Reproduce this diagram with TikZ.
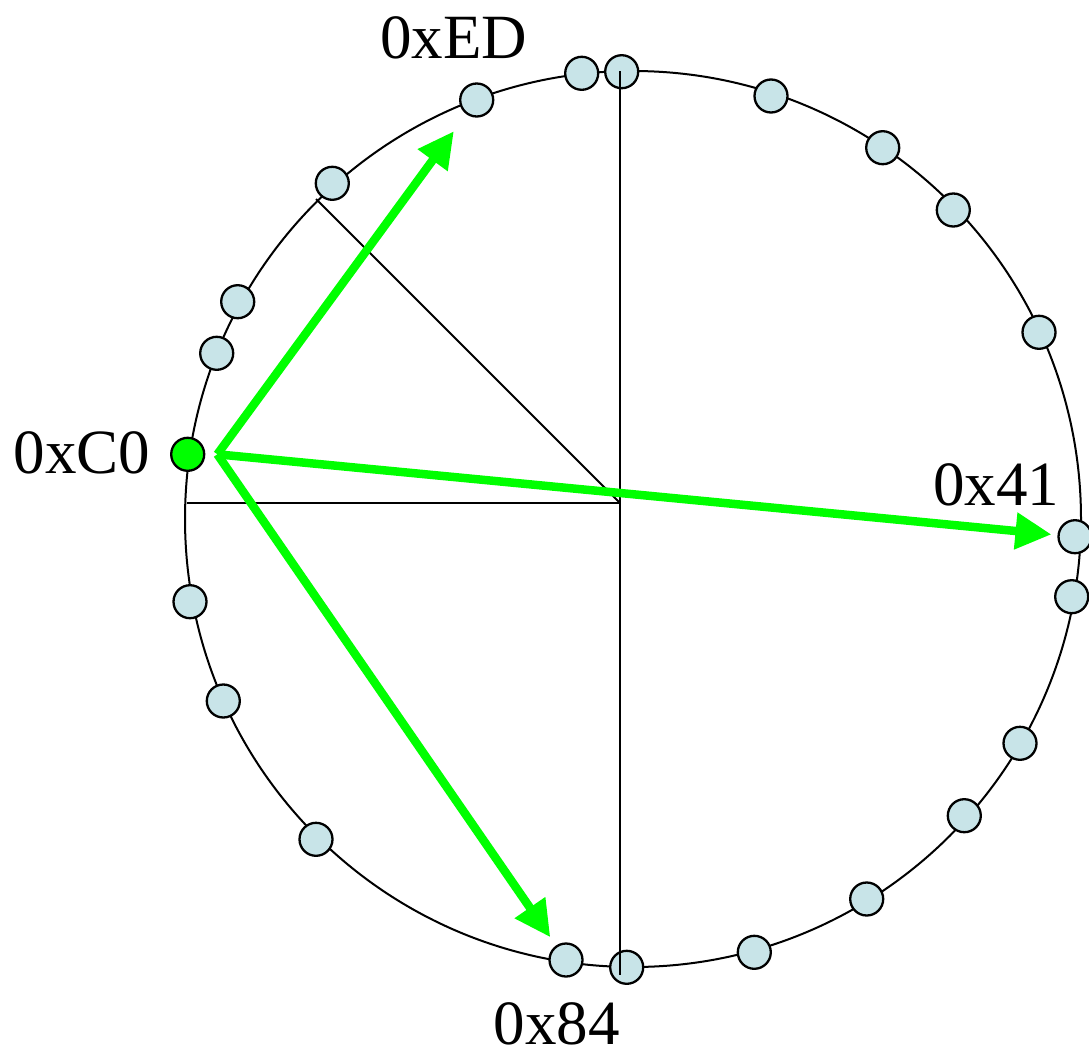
\documentclass[tikz,border=0pt]{standalone}
\usepackage{fontspec}
\setmainfont{Liberation Serif}
\usetikzlibrary{arrows.meta}
\definecolor{dotfill}{RGB}{200,228,232}
\definecolor{hotgreen}{RGB}{0,255,0}
\begin{document}
\begin{tikzpicture}[x=1pt,y=-1pt,
  ring/.style={line width=2pt},
  axis/.style={line width=1.8pt},
  dot/.style={circle,draw=black,line width=2.3pt,fill=dotfill,minimum size=33pt,inner sep=0pt},
  gdot/.style={dot,fill=hotgreen},
  hop/.style={draw=hotgreen,line width=8.5pt,-{Triangle[length=36pt,width=35pt]}},
  lbl/.style={font=\fontsize{63}{63}\selectfont,anchor=base west,inner sep=0pt}]
\useasboundingbox (0,0) rectangle (1089,1052);
% ring
\draw[ring] (633,519) circle[radius=448];
% nodes on the ring
\node[dot] (n1) at (581.7,73.3) {};
\node[dot] (n2) at (621.7,71.7) {};
\node[dot] (ed) at (476.7,100) {};
\node[dot] (n4) at (771,96) {};
\node[dot] (n5) at (882.7,147.7) {};
\node[dot] (n6) at (953.3,210) {};
\node[dot] (n7) at (1039,332.3) {};
\node[dot] (x41) at (1075,536.7) {};
\node[dot] (n9) at (1071.7,596.7) {};
\node[dot] (n10) at (1020,743.3) {};
\node[dot] (n11) at (964.3,815.7) {};
\node[dot] (n12) at (866.7,899) {};
\node[dot] (n13) at (754.3,952.3) {};
\node[dot] (n14) at (626.7,967.3) {};
\node[dot] (x84) at (566,960) {};
\node[dot] (n16) at (316,839.3) {};
\node[dot] (n17) at (223.3,701) {};
\node[dot] (n18) at (190,601.7) {};
\node[gdot] (c0) at (187.7,454.3) {};
\node[dot] (n20) at (216.7,353.3) {};
\node[dot] (n21) at (237.7,301.7) {};
\node[dot] (n22) at (332.3,183.3) {};
% axes
\coordinate (o) at (620,503);
\coordinate (vt) at (620,71);
\coordinate (vb) at (620,975);
\coordinate (hl) at (187,503);
\coordinate (dg) at (316,199);
\draw[axis] (vt) -- (vb);
\draw[axis] (hl) -- (o);
\draw[axis] (dg) -- (o);
% fingers, all leaving one point just right of 0xC0
\coordinate (hub) at ([xshift=12pt]c0.east);
\draw[hop,shorten >=21pt] (hub) -- (ed);
\draw[hop,shorten >=6pt] (hub) -- (x41);
\draw[hop,shorten >=10pt] (hub) -- (x84);
% labels
\node[lbl] (ted) at (380,58.3) {0xED};
\node[lbl] (tc0) at (13.5,473.3) {0xC0};
\node[lbl] (t41) at (933,505) {0x41};
\node[lbl] (t84) at (493.5,1044) {0x84};
\end{tikzpicture}
\end{document}
